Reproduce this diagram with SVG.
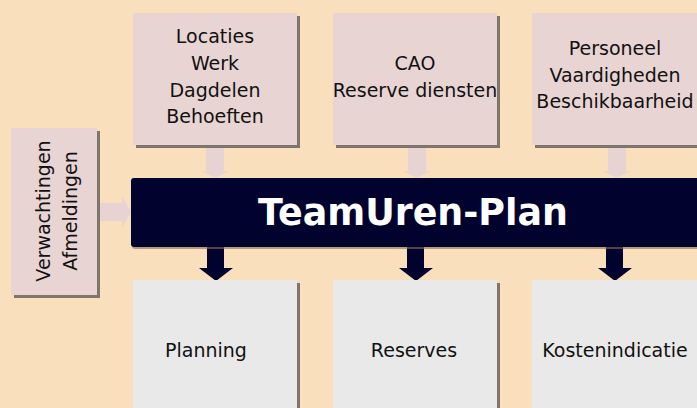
<svg xmlns="http://www.w3.org/2000/svg" width="697" height="408" viewBox="0 0 697 408">
<style>
.bg{fill:#FADFBD}
.shadow{fill:#7E756E}
.in{fill:#E9D4D4}
.out{fill:#E9E9E9}
.t{font-family:"DejaVu Sans","Verdana",sans-serif;font-size:19px;fill:#111;text-anchor:middle}
.title{font-family:"DejaVu Sans","Verdana",sans-serif;font-size:38px;font-weight:bold;fill:#FFFFFF;text-anchor:middle}
.pa{fill:#E8D3D3}
.da{fill:#02022F}
</style>
<rect class="bg" x="0" y="0" width="697" height="408"/>

<g id="connectors">
  <polygon class="pa" points="206,145 224,145 224,171 229,171 215,178 201,171 206,171"/>
  <polygon class="pa" points="408,145 426,145 426,171 431,171 417,178 403,171 408,171"/>
  <polygon class="pa" points="608,145 626,145 626,171 631,171 617,178 603,171 608,171"/>
  <polygon class="pa" points="97,203 122,203 122,196 131,212 122,228 122,221 97,221"/>
  <polygon class="da" points="207,246 224,246 224,268 233,268 216,281 199,268 207,268"/>
  <polygon class="da" points="407,246 424,246 424,268 433,268 416,281 399,268 407,268"/>
  <polygon class="da" points="606,246 623,246 623,268 632,268 615,281 598,268 606,268"/>
</g>

<g id="node-locaties">
  <rect class="shadow" x="136" y="16" width="164" height="132"/>
  <rect class="in" x="133" y="13" width="164" height="132"/>
  <text class="t" x="215" y="43">Locaties</text>
  <text class="t" x="215" y="70">Werk</text>
  <text class="t" x="215" y="97">Dagdelen</text>
  <text class="t" x="215" y="123">Behoeften</text>
</g>

<g id="node-cao">
  <rect class="shadow" x="336" y="16" width="164" height="132"/>
  <rect class="in" x="333" y="13" width="164" height="132"/>
  <text class="t" x="415" y="70">CAO</text>
  <text class="t" x="415" y="97">Reserve diensten</text>
</g>

<g id="node-personeel">
  <rect class="shadow" x="535" y="16" width="165" height="132"/>
  <rect class="in" x="532" y="13" width="165" height="132"/>
  <text class="t" x="615" y="55">Personeel</text>
  <text class="t" x="615" y="82">Vaardigheden</text>
  <text class="t" x="615" y="108">Beschikbaarheid</text>
</g>

<g id="node-verwachtingen">
  <rect class="shadow" x="14" y="131" width="86" height="167"/>
  <rect class="in" x="11" y="128" width="86" height="167"/>
  <g transform="translate(54,211) rotate(-90)">
    <text class="t" x="0" y="-4">Verwachtingen</text>
    <text class="t" x="0" y="23">Afmeldingen</text>
  </g>
</g>

<g id="node-teamuren">
  <rect x="132" y="180" width="570" height="69" rx="3" fill="#8A6E55" opacity="0.6"/>
  <rect class="da" x="131" y="178" width="570" height="69" rx="3"/>
  <text class="title" x="413" y="225" textLength="310" lengthAdjust="spacingAndGlyphs">TeamUren-Plan</text>
</g>

<g id="node-planning">
  <rect class="shadow" x="136" y="283" width="164" height="130"/>
  <rect class="out" x="133" y="280" width="164" height="130"/>
  <text class="t" x="206" y="357">Planning</text>
</g>

<g id="node-reserves">
  <rect class="shadow" x="336" y="283" width="164" height="130"/>
  <rect class="out" x="333" y="280" width="164" height="130"/>
  <text class="t" x="414" y="357">Reserves</text>
</g>

<g id="node-kosten">
  <rect class="shadow" x="535" y="283" width="165" height="130"/>
  <rect class="out" x="532" y="280" width="165" height="130"/>
  <text class="t" x="615" y="357">Kostenindicatie</text>
</g>
</svg>
